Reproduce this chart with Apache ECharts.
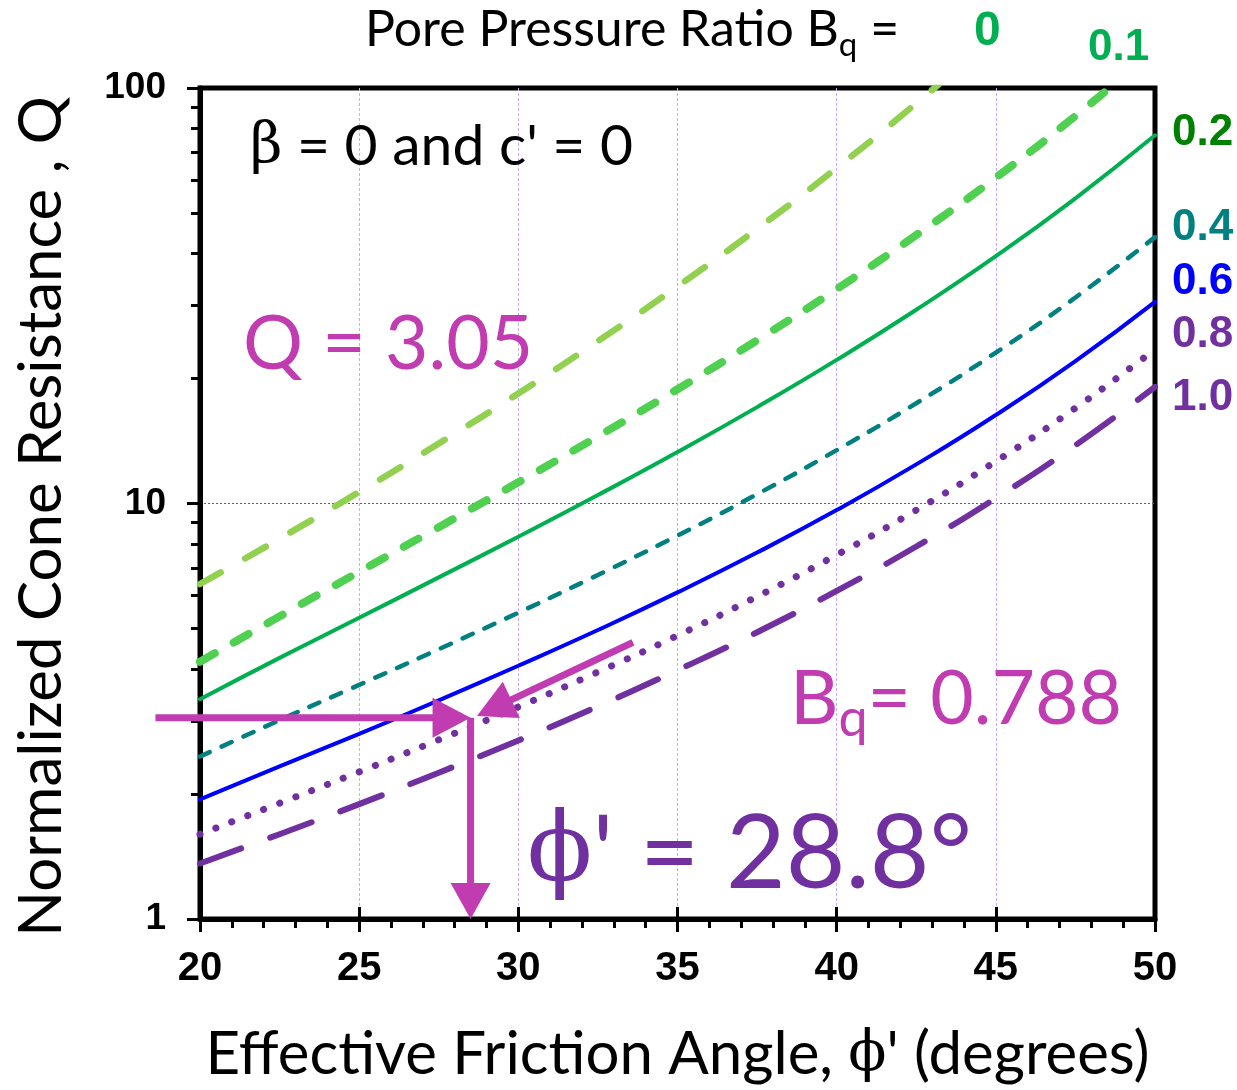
<!DOCTYPE html>
<html>
<head>
<meta charset="utf-8">
<script src="https://cdn.jsdelivr.net/npm/echarts@6/dist/echarts.min.js"></script>
<style>
  html, body { margin: 0; padding: 0; background: #fff; }
  #chart { width: 1237px; height: 1090px; }
</style>
</head>
<body>
<div id="chart"></div>
<script>
// friction angle (degrees)
const phi = [20, 22.5, 25, 27.5, 30, 32.5, 35, 37.5, 40, 42.5, 45, 47.5, 50];
// normalized cone resistance Q for each Bq
const q00 = [6.40, 8.23, 10.66, 13.94, 18.40, 24.59, 33.30, 45.81, 64.20, 91.91, 134.9, 203.9, 319.1];
const q01 = [4.16, 5.35, 6.85, 8.77, 11.25, 14.51, 18.84, 24.71, 32.82, 44.27, 60.85, 85.63, 123.9];
const q02 = [3.38, 4.25, 5.31, 6.64, 8.32, 10.48, 13.30, 17.06, 22.16, 29.26, 39.37, 54.27, 76.94];
const q04 = [2.46, 3.01, 3.66, 4.46, 5.46, 6.73, 8.37, 10.53, 13.44, 17.43, 23.08, 31.32, 43.76];
const q06 = [1.94, 2.33, 2.79, 3.36, 4.07, 4.96, 6.11, 7.62, 9.64, 12.42, 16.33, 22.02, 30.58];
const q08 = [1.60, 1.90, 2.26, 2.70, 3.24, 3.93, 4.81, 5.97, 7.52, 9.64, 12.63, 16.97, 23.50];
const q10 = [1.36, 1.60, 1.89, 2.25, 2.69, 3.25, 3.97, 4.90, 6.16, 7.88, 10.30, 13.81, 19.08];

const bqNames = ['0', '0.1', '0.2', '0.4', '0.6', '0.8', '1.0'];
const xTicks = [20, 25, 30, 35, 40, 45, 50];
const yMajor = [1, 10, 100];
const yMinor = [2, 3, 4, 5, 6, 7, 8, 9, 20, 30, 40, 50, 60, 70, 80, 90];

// worked example
const exQ = 3.05;
const exPhiDrawn = 28.5;
const exStartPhi = 18.6;
const exBqFrom = [33.6, 4.63];
const exBqTo = [28.7, 3.08];

const PURPLE = '#7030a0';
const MAGENTA = '#c03cb0';
const SANS = 'Lato, "Open Sans", sans-serif';
const NARROW = '"Liberation Sans Narrow", "Liberation Sans", Arial';

const chart = echarts.init(document.getElementById('chart'));

function curve(name, vals, color, width, type) {
  return {
    name: name,
    type: 'line',
    data: phi.map((x, i) => [x, vals[i]]),
    showSymbol: false,
    smooth: true,
    clip: true,
    silent: true,
    lineStyle: { color: color, width: width, type: type, cap: 'round' }
  };
}

chart.setOption({
  animation: false,
  grid: { left: 200, right: 82, top: 88, bottom: 170, show: true, borderColor: '#000', borderWidth: 5 },
  xAxis: [{
    type: 'value', min: 20, max: 50, interval: 5,
    axisLine: { lineStyle: { color: '#000', width: 5 } },
    axisTick: { length: 13, lineStyle: { color: '#000', width: 3 } },
    minorTick: { show: true, splitNumber: 5, length: 9, lineStyle: { color: '#000', width: 3 } },
    axisLabel: { margin: 30, fontFamily: NARROW, fontWeight: 'bold', fontSize: 40, color: '#000' },
    splitLine: { show: true, showMinLine: false, showMaxLine: false, lineStyle: { color: '#c9a8ff', width: 1, type: [3, 2] } },
    name: '{a|Effective Friction Angle, }{p|\u03d5}{a|\' (degrees)}',
    nameLocation: 'middle', nameGap: 106,
    nameTextStyle: {
      rich: {
        a: { fontFamily: SANS, fontSize: 60, color: '#000' },
        p: { fontFamily: '"DejaVu Serif", serif', fontSize: 56, color: '#000' }
      }
    }
  }, {
    type: 'value', min: 20, max: 50, interval: 5, position: 'bottom',
    axisLine: { show: false },
    axisTick: { inside: true, length: 12, lineStyle: { color: '#000', width: 3 } },
    axisLabel: { show: false }, splitLine: { show: false }
  }],
  yAxis: [{
    type: 'log', logBase: 10, min: 1, max: 100,
    axisLine: { lineStyle: { color: '#000', width: 5 } },
    axisTick: { length: 13, lineStyle: { color: '#000', width: 3 } },
    axisLabel: { margin: 34, fontFamily: '"Liberation Sans", Arial', fontWeight: 'bold', fontSize: 37, color: '#000' },
    splitLine: { show: true, showMinLine: false, showMaxLine: false, lineStyle: { color: '#b020d8', width: 1, type: [2, 2] } },
    name: 'Normalized Cone Resistance , Q',
    nameLocation: 'middle', nameRotate: 90, nameGap: 128,
    nameTextStyle: { fontFamily: SANS, fontSize: 60, color: '#000', padding: [0, 26, 0, 0] }
  }, {
    type: 'log', logBase: 10, min: 1, max: 100, position: 'left',
    axisLine: { show: false },
    axisTick: { length: 9, customValues: yMinor, lineStyle: { color: '#000', width: 3 } },
    axisLabel: { show: false }, splitLine: { show: false }
  }],
  series: [
    curve(bqNames[0], q00, '#92d050', 6.5, [24, 28]),
    curve(bqNames[1], q01, '#50d050', 8, [17, 22]),
    curve(bqNames[2], q02, '#00b050', 4, 'solid'),
    curve(bqNames[3], q04, '#008080', 4.5, [11, 13]),
    curve(bqNames[4], q06, '#0000ff', 4, 'solid'),
    curve(bqNames[5], q08, PURPLE, 7, [0.1, 17]),
    curve(bqNames[6], q10, PURPLE, 6, [44, 31])
  ]
});

function txt(x, y, text, rich, align) {
  return {
    type: 'text', x: x, y: y, silent: true, z: 100,
    style: { text: text, rich: rich, align: align || 'left', verticalAlign: 'middle',
             textAlign: align || 'left', textVerticalAlign: 'middle' }
  };
}

function arrow(from, to, head, half, width, color) {
  const a = chart.convertToPixel({ xAxisIndex: 0, yAxisIndex: 0 }, from);
  const b = chart.convertToPixel({ xAxisIndex: 0, yAxisIndex: 0 }, to);
  const dx = b[0] - a[0], dy = b[1] - a[1];
  const len = Math.sqrt(dx * dx + dy * dy);
  const ux = dx / len, uy = dy / len;
  const bx = b[0] - ux * head, by = b[1] - uy * head;
  return [{
    type: 'line', silent: true, z: 90,
    shape: { x1: a[0], y1: a[1], x2: bx + ux * 2, y2: by + uy * 2 },
    style: { stroke: color, lineWidth: width }
  }, {
    type: 'polygon', silent: true, z: 91,
    shape: { points: [[b[0], b[1]], [bx - uy * half, by + ux * half], [bx + uy * half, by - ux * half]] },
    style: { fill: color }
  }];
}

const labelStyle = (c, s) => ({ t: { fontFamily: NARROW, fontWeight: 'bold', fontSize: s || 44, fill: c, color: c } });
const big = (size, c) => ({ fontFamily: SANS, fontSize: size, fill: c, color: c });

const graphics = [
  txt(365, 30, '{a|Pore Pressure Ratio B}{s|q}{a| =}', {
    a: Object.assign(big(50, '#000'), { lineHeight: 64 }),
    s: Object.assign(big(33, '#000'), { lineHeight: 28, verticalAlign: 'bottom' })
  }),
  txt(974, 32, '{t|' + bqNames[0] + '}', labelStyle('#00b050', 48)),
  txt(1088, 48, '{t|' + bqNames[1] + '}', labelStyle('#00b050')),
  txt(1172, 133, '{t|' + bqNames[2] + '}', labelStyle('#008000')),
  txt(1172, 228, '{t|' + bqNames[3] + '}', labelStyle('#008080')),
  txt(1172, 282, '{t|' + bqNames[4] + '}', labelStyle('#0000ff')),
  txt(1172, 335, '{t|' + bqNames[5] + '}', labelStyle(PURPLE)),
  txt(1172, 398, '{t|' + bqNames[6] + '}', labelStyle(PURPLE)),
  txt(250, 147, '{b|\u03b2}{a| = 0 and c\' = 0}', {
    a: big(57, '#000'),
    b: { fontFamily: '"DejaVu Serif", serif', fontSize: 56, fill: '#000', color: '#000' }
  }),
  txt(243, 345, '{a|Q = ' + exQ.toFixed(2) + '}', { a: big(75, MAGENTA) }),
  txt(790, 700, '{a|B}{s|q}{a|= 0.788}', {
    a: Object.assign(big(75, MAGENTA), { lineHeight: 90 }),
    s: Object.assign(big(52, MAGENTA), { lineHeight: 44, verticalAlign: 'bottom' })
  }),
  txt(527, 855, '{p|\u03d5}{a|\' = 28.8\u00b0}', {
    a: big(103, PURPLE),
    p: { fontFamily: '"DejaVu Serif", serif', fontSize: 96, fill: PURPLE, color: PURPLE }
  })
];

arrow([exStartPhi, exQ], [exPhiDrawn, exQ], 38, 20, 7, MAGENTA).forEach(g => graphics.push(g));
arrow([exPhiDrawn, exQ], [exPhiDrawn, 1], 36, 20, 7, MAGENTA).forEach(g => graphics.push(g));
arrow(exBqFrom, exBqTo, 38, 20, 7, MAGENTA).forEach(g => graphics.push(g));

chart.setOption({ graphic: graphics });
</script>
</body>
</html>
